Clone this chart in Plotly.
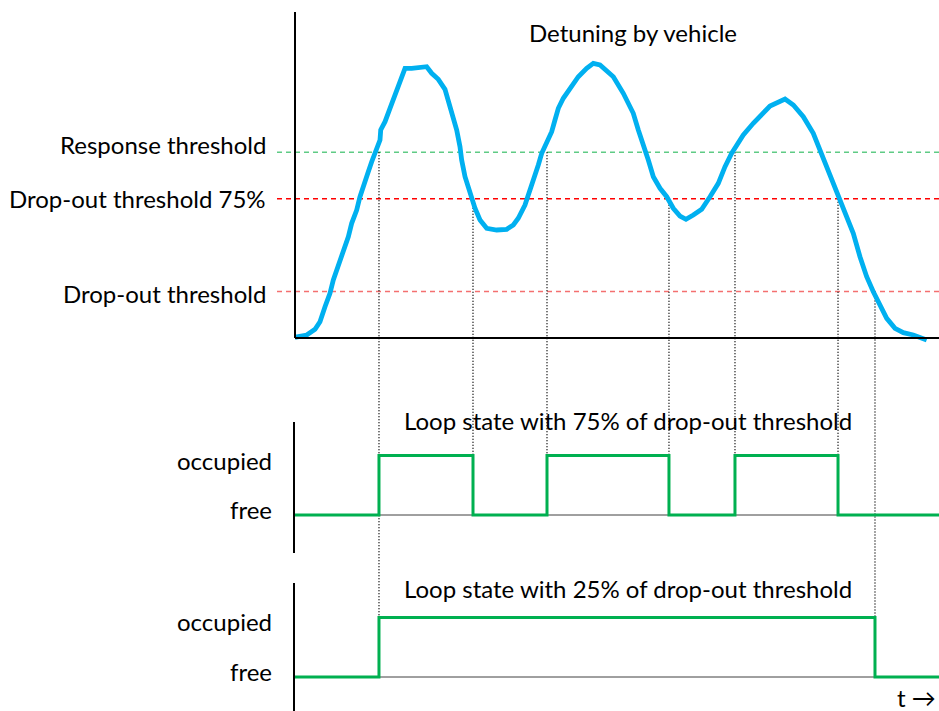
import plotly.graph_objects as go

W, H = 939, 711

# Detuning caused by a passing vehicle (time in arbitrary units, detuning in % of full scale)
t_detune = [0.00, 1.82, 3.11, 3.88, 4.66, 5.43, 5.95, 6.72, 7.50, 8.28, 8.80, 9.58, 10.09,
            10.87, 11.38, 11.91, 12.69, 13.20, 13.31, 13.98, 14.75, 15.53, 16.04, 17.08,
            18.12, 19.41, 20.45, 21.23, 22.25, 23.29, 23.80, 24.58, 25.11, 25.62, 25.88,
            26.40, 27.17, 27.95, 28.73, 29.77, 31.32, 32.87, 33.90, 34.67, 35.71, 36.23,
            37.00, 37.78, 38.31, 39.08, 39.86, 40.37, 40.89, 41.66, 42.97, 43.99, 45.29,
            46.32, 47.36, 49.43, 50.98, 52.53, 53.31, 54.08, 54.86, 55.64, 56.68, 57.72,
            58.74, 59.78, 60.71, 61.85, 63.15, 64.44, 65.73, 66.77, 67.81, 69.61, 71.16,
            73.76, 76.09, 77.38, 78.93, 80.48, 81.52, 82.56, 83.59, 84.37, 85.68, 86.69,
            87.73, 88.77, 89.80, 90.84, 91.88, 93.17, 94.46, 96.01, 98.09]
detune = [0.21, 0.92, 2.67, 5.00, 9.60, 13.71, 17.79, 21.87, 26.99, 31.07, 35.18, 39.26, 43.34,
          47.45, 51.01, 54.08, 57.67, 60.74, 63.80, 66.35, 70.46, 74.54, 78.13, 82.73,
          82.73, 82.91, 83.22, 81.20, 79.36, 76.29, 73.01, 68.40, 63.80, 58.68, 54.60,
          49.48, 44.39, 39.79, 36.20, 33.65, 33.13, 33.34, 34.66, 36.72, 40.80, 43.87,
          47.45, 53.07, 56.66, 60.21, 63.28, 66.87, 70.46, 73.53, 77.61, 80.15, 82.73,
          84.26, 83.74, 80.15, 75.06, 68.93, 63.80, 59.72, 54.60, 49.48, 45.92, 43.34,
          39.79, 37.42, 36.41, 37.73, 39.48, 43.34, 47.45, 52.55, 56.66, 62.27, 65.86,
          71.17, 73.31, 71.47, 67.88, 62.79, 57.67, 52.55, 47.45, 42.85, 37.21, 32.12,
          24.94, 18.80, 14.20, 10.12, 6.04, 2.98, 1.63, 0.92, -0.61]

response_threshold = 57.0
dropout_75 = 0.75 * response_threshold
dropout_25 = 0.25 * response_threshold

# Loop state (0 = free, 1 = occupied)
t_state_75 = [0, 13.04, 27.64, 39.13, 58.07, 68.32, 84.32, 100]
state_75 = [0, 1, 0, 1, 0, 1, 0, 0]
t_state_25 = [0, 13.04, 90.06, 100]
state_25 = [0, 1, 0, 0]

# Switching instants: time, detuning level crossed, panel where the edge ends
switch_times = [13.04, 27.64, 39.13, 58.07, 68.32, 84.32, 90.06]
switch_levels = [response_threshold, dropout_75, response_threshold, dropout_75,
                 response_threshold, dropout_75, dropout_25]
switch_panel = [3, 2, 2, 2, 2, 2, 3]

T_RANGE = [0, 100]


# Panel geometry in pixels (top, bottom of each value axis)
def ydom(top_px, bottom_px):
    return [1 - bottom_px / H, 1 - top_px / H]


Y1_RANGE = [-3, 100]
Y1_DOM = ydom(12, 338 + 3 * 3.26)
Y2_RANGE = [-(553 - 515) / 59.5, (515 - 422) / 59.5]
Y2_DOM = ydom(422, 553)
Y3_RANGE = [-(711 - 677) / 59.5, (677 - 583) / 59.5]
Y3_DOM = ydom(583, 711)
X_DOM = [295 / W, 1.0]

RANGES = {1: Y1_RANGE, 2: Y2_RANGE, 3: Y3_RANGE}
DOMS = {1: Y1_DOM, 2: Y2_DOM, 3: Y3_DOM}


def to_paper(v, panel):
    r0, r1 = RANGES[panel]
    d0, d1 = DOMS[panel]
    return d0 + (v - r0) / (r1 - r0) * (d1 - d0)


FONT = "Lato"
FONT_SIZE = 24
BLUE = "#00B0F0"
GREEN = "#00B050"

fig = go.Figure()

fig.add_trace(go.Scatter(x=t_detune, y=detune, mode="lines",
                         line=dict(color=BLUE, width=4.8), xaxis="x", yaxis="y",
                         hoverinfo="skip"))

for xs, ys, ax in [(t_state_75, state_75, "2"), (t_state_25, state_25, "3")]:
    fig.add_trace(go.Scatter(x=[switch_times[0], T_RANGE[1]], y=[0, 0], mode="lines",
                             line=dict(color="#404040", width=1),
                             xaxis="x" + ax, yaxis="y" + ax, hoverinfo="skip"))
    fig.add_trace(go.Scatter(x=xs, y=ys, mode="lines", line_shape="hv",
                             line=dict(color=GREEN, width=3),
                             xaxis="x" + ax, yaxis="y" + ax, hoverinfo="skip"))

shapes = []
# detuning panel axes
shapes.append(dict(type="line", xref="x domain", yref="y", x0=0, x1=1, y0=0, y1=0,
                   line=dict(color="black", width=2)))
shapes.append(dict(type="line", xref="x domain", yref="y", x0=0, x1=0, y0=0, y1=100,
                   line=dict(color="black", width=2)))
# thresholds
for lvl, col in [(response_threshold, "#5FCB85"), (dropout_75, "#FF0000"), (dropout_25, "#F47070")]:
    shapes.append(dict(type="line", xref="paper", yref="y", x0=277 / W, x1=1, y0=lvl, y1=lvl,
                       line=dict(color=col, width=1.5, dash="5px,4px"), layer="below"))
# switching instants
for ts, lvl, p in zip(switch_times, switch_levels, switch_panel):
    shapes.append(dict(type="line", xref="x", yref="paper", x0=ts, x1=ts,
                       y0=to_paper(lvl, 1), y1=to_paper(1, p),
                       line=dict(color="black", width=1.4, dash="1px,2px"), layer="below"))

annotations = []


def label(text, x, y, xanchor="right", yref="paper", yshift=0):
    annotations.append(dict(text=text, x=x, y=y, xref="paper", yref=yref, xanchor=xanchor,
                            yanchor="middle", showarrow=False, yshift=yshift,
                            font=dict(family=FONT, size=FONT_SIZE, color="black")))


label("Detuning by vehicle", 633 / W, 1 - 32 / H, xanchor="center")
label("Response threshold", 268 / W, response_threshold, yref="y", yshift=8)
label("Drop-out threshold 75%", 268 / W, dropout_75, yref="y")
label("Drop-out threshold", 268 / W, dropout_25, yref="y", yshift=-2)
label("Loop state with 75% of drop-out threshold", 628 / W, 1 - 421 / H, xanchor="center")
label("occupied", 274 / W, 1, yref="y2", yshift=-5)
label("free", 274 / W, 0, yref="y2", yshift=6)
label("Loop state with 25% of drop-out threshold", 628 / W, 1 - 588 / H, xanchor="center")
label("occupied", 274 / W, 1, yref="y3", yshift=-4)
label("free", 274 / W, 0, yref="y3", yshift=6)
label("t \u2192", 938 / W, 1 - 697 / H)

hidden = dict(showgrid=False, zeroline=False, showticklabels=False, ticks="", fixedrange=True)

fig.update_layout(
    width=W, height=H, margin=dict(l=0, r=0, t=0, b=0),
    paper_bgcolor="white", plot_bgcolor="rgba(0,0,0,0)", showlegend=False,
    xaxis=dict(domain=X_DOM, range=T_RANGE, anchor="y", showline=False, **hidden),
    xaxis2=dict(domain=X_DOM, range=T_RANGE, anchor="y2", showline=False, **hidden),
    xaxis3=dict(domain=X_DOM, range=T_RANGE, anchor="y3", showline=False, **hidden),
    yaxis=dict(domain=Y1_DOM, range=Y1_RANGE, anchor="x", showline=False, **hidden),
    yaxis2=dict(domain=Y2_DOM, range=Y2_RANGE, anchor="x2", showline=True,
                linecolor="black", linewidth=2, **hidden),
    yaxis3=dict(domain=Y3_DOM, range=Y3_RANGE, anchor="x3", showline=True,
                linecolor="black", linewidth=2, **hidden),
    shapes=shapes, annotations=annotations,
)

fig.write_html("out.html", config={"displayModeBar": False})
